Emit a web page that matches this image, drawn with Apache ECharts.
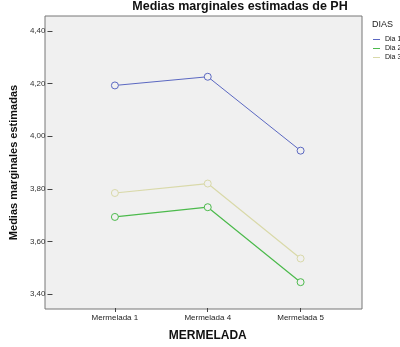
<!DOCTYPE html>
<html>
<head>
<meta charset="utf-8">
<script src="https://cdn.jsdelivr.net/npm/echarts@6/dist/echarts.min.js"></script>
<style>
  html, body { margin: 0; padding: 0; background: #fff; }
  #chart { width: 400px; height: 347px; }
</style>
</head>
<body>
<div id="chart"></div>
<script>
// Data
const categories = ['Mermelada 1', 'Mermelada 4', 'Mermelada 5'];
const dia1 = [4.193, 4.226, 3.945];
const dia2 = [3.693, 3.730, 3.445];
const dia3 = [3.784, 3.820, 3.535];
const seriesNames = ['Dia 1', 'Dia 2', 'Dia 3'];
const yTicks = { min: 3.4, max: 4.4, step: 0.2 };

(function() {
    const chart = echarts.init(document.getElementById('chart'), null, { renderer: 'canvas' });
    const font = '"Liberation Sans", Arial, sans-serif';
    const colors = ['#5b68c2', '#4cba4c', '#d9d9a9'];

    const makeSeries = (name, data, color, width) => ({
        name: name,
        type: 'line',
        data: data,
        symbol: 'circle',
        symbolSize: 7,
        z: 5,
        color: color,
        lineStyle: { color: color, width: width },
        itemStyle: { color: '#f0f0f0', borderColor: color, borderWidth: 1 }
    });

    const option = {
        backgroundColor: '#ffffff',
        animation: false,
        textStyle: { fontFamily: font },
        grid: { left: 61, right: 53, top: 31, bottom: 52 },
        graphic: [
            {
                type: 'rect',
                z: -10,
                shape: { x: 45, y: 16, width: 317, height: 293 },
                style: { fill: '#f0f0f0', stroke: '#777777', lineWidth: 1 }
            },
            {
                type: 'text',
                x: 240, y: 7,
                style: {
                    text: 'Medias marginales estimadas de PH',
                    font: 'bold 12.5px ' + font,
                    fill: '#111',
                    textAlign: 'center',
                    textVerticalAlign: 'middle'
                }
            },
            {
                type: 'text',
                x: 372, y: 25,
                style: {
                    text: 'DIAS',
                    font: '9px ' + font,
                    fill: '#222',
                    textAlign: 'left',
                    textVerticalAlign: 'middle'
                }
            }
        ],
        legend: {
            orient: 'vertical',
            left: 373,
            top: 36,
            padding: 0,
            icon: 'rect',
            itemWidth: 7,
            itemHeight: 1,
            itemGap: 2,
            data: seriesNames.map((n, i) => ({ name: n, itemStyle: { color: colors[i], borderWidth: 0 } })),
            textStyle: { fontSize: 7, color: '#111', overflow: 'none' }
        },
        xAxis: {
            type: 'category',
            data: categories,
            offset: 14,
            name: 'MERMELADA',
            nameLocation: 'middle',
            nameGap: 22,
            nameTextStyle: { fontSize: 12, fontWeight: 'bold', color: '#111' },
            axisLine: { show: false },
            axisTick: { show: true, alignWithLabel: true, length: 4, lineStyle: { color: '#444' } },
            axisLabel: { fontSize: 8, color: '#222', margin: 6 },
            splitLine: { show: false }
        },
        yAxis: {
            type: 'value',
            min: yTicks.min,
            max: yTicks.max,
            interval: yTicks.step,
            offset: 16,
            name: 'Medias marginales estimadas',
            nameLocation: 'middle',
            nameGap: 33,
            nameRotate: 90,
            nameTextStyle: { fontSize: 11, fontWeight: 'bold', color: '#111' },
            axisLine: { show: false },
            axisTick: { show: true, length: 5, lineStyle: { color: '#444' } },
            axisLabel: {
                fontSize: 8,
                color: '#333',
                margin: 7,
                formatter: v => v.toFixed(2).replace('.', ',')
            },
            splitLine: { show: false }
        },
        series: [
            makeSeries(seriesNames[0], dia1, colors[0], 1),
            makeSeries(seriesNames[1], dia2, colors[1], 1.2),
            makeSeries(seriesNames[2], dia3, colors[2], 1.2)
        ]
    };

    chart.setOption(option);
})();
</script>
</body>
</html>
